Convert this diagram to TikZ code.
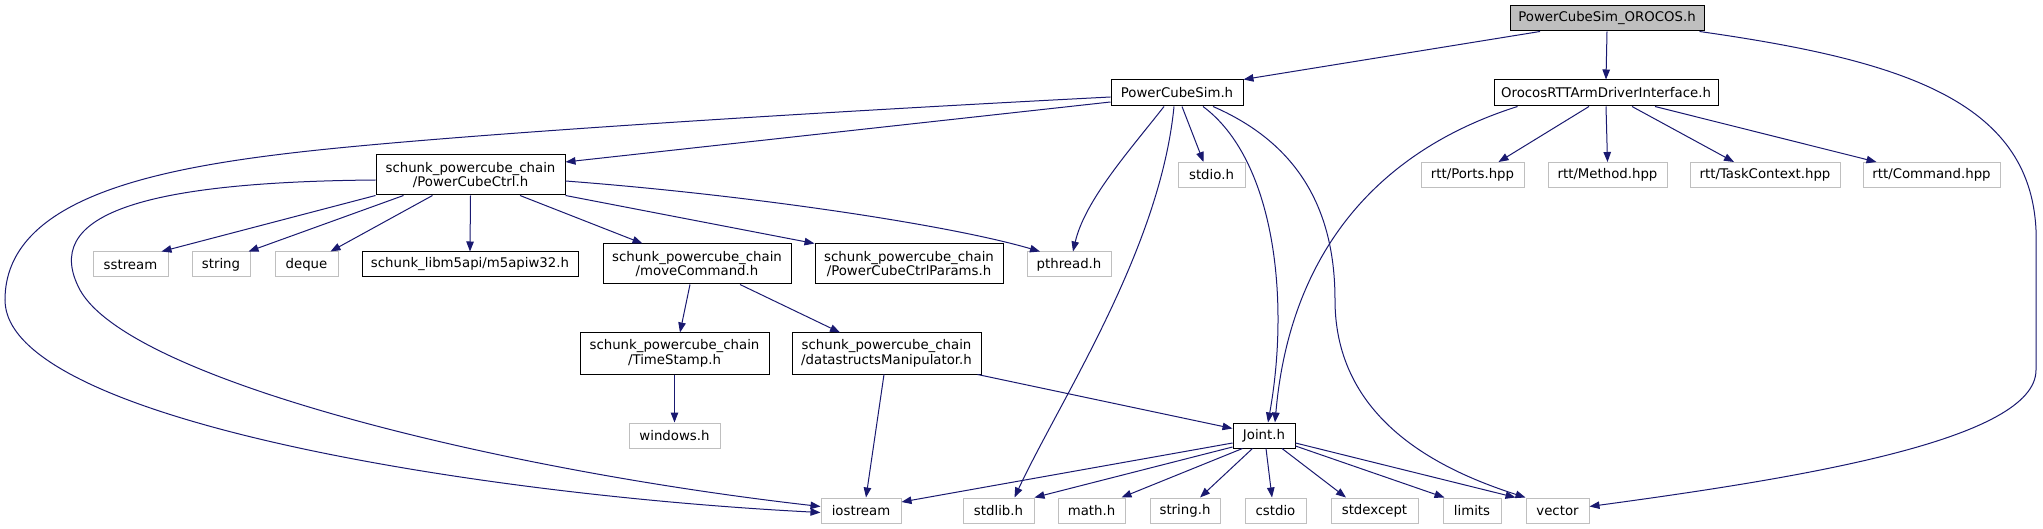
\documentclass[tikz,border=0pt]{standalone}
\usepackage{fontspec}
\setmainfont{DejaVu Sans}
\usetikzlibrary{arrows.meta}
\definecolor{edgeblue}{HTML}{191970}
\definecolor{extgray}{HTML}{BFBFBF}
\definecolor{rootfill}{HTML}{BFBFBF}
\begin{document}
\begin{tikzpicture}[x=1pt,y=-1pt,
  box/.style={draw=black, line width=1pt, inner sep=0pt, align=center, text=black,
    font=\fontsize{13.3}{14.5}\selectfont, minimum height=25pt},
  twoline/.style={box, minimum height=40pt},
  ext/.style={box, draw=extgray},
  rootnode/.style={box, fill=rootfill},
  dep/.style={draw=edgeblue, line width=1pt, -{Triangle[length=10pt,width=7.5pt,fill=edgeblue]}}]
\fill[white] (0,0) rectangle (2043,529);
\useasboundingbox (0,0) rectangle (2043,529);
% row 0
\node[rootnode, minimum width=194pt] (root) at (1607,18.5) {PowerCubeSim\_OROCOS.h};
% row 1
\node[box, minimum width=132pt, minimum height=26pt] (pcs) at (1177,93) {PowerCubeSim.h};
\node[box, minimum width=224pt, minimum height=26pt] (oro) at (1606,93) {OrocosRTTArmDriverInterface.h};
% row 2
\node[twoline, minimum width=189pt] (pcc) at (470.5,175) {schunk\_powercube\_chain\\/PowerCubeCtrl.h};
\node[ext, minimum width=67pt] (stdio) at (1211.5,175) {stdio.h};
\node[ext, minimum width=103pt] (ports) at (1472.5,175) {rtt/Ports.hpp};
\node[ext, minimum width=119pt] (method) at (1607.5,175) {rtt/Method.hpp};
\node[ext, minimum width=150pt] (task) at (1765,175) {rtt/TaskContext.hpp};
\node[ext, minimum width=137pt] (cmd) at (1931.5,175) {rtt/Command.hpp};
% row 3
\node[ext, minimum width=75pt] (ss) at (130.5,264.5) {sstream};
\node[ext, minimum width=58pt] (str) at (221,264.5) {string};
\node[ext, minimum width=63pt] (deq) at (306.5,264.5) {deque};
\node[box, minimum width=216pt] (m5) at (470,264.5) {schunk\_libm5api/m5apiw32.h};
\node[twoline, minimum width=188pt] (mv) at (697,264) {schunk\_powercube\_chain\\/moveCommand.h};
\node[twoline, minimum width=188pt] (par) at (909,264) {schunk\_powercube\_chain\\/PowerCubeCtrlParams.h};
\node[ext, minimum width=84pt] (pth) at (1069,264.5) {pthread.h};
% row 4
\node[twoline, minimum width=189pt, minimum height=41pt] (ts) at (674.5,353.5) {schunk\_powercube\_chain\\/TimeStamp.h};
\node[twoline, minimum width=189pt, minimum height=41pt] (ds) at (886.5,353.5) {schunk\_powercube\_chain\\/datastructsManipulator.h};
% row 5
\node[ext, minimum width=91pt] (win) at (674.5,435.5) {windows.h};
\node[box, minimum width=62pt] (joint) at (1264,435.5) {Joint.h};
% row 6
\node[ext, minimum width=80pt] (ios) at (861,510.5) {iostream};
\node[ext, minimum width=71pt] (stdlib) at (998.5,510.5) {stdlib.h};
\node[ext, minimum width=67pt] (math) at (1091.5,510.5) {math.h};
\node[ext, minimum width=70pt] (strh) at (1185,510.5) {string.h};
\node[ext, minimum width=61pt] (cst) at (1275.5,510.5) {cstdio};
\node[ext, minimum width=87pt] (stdex) at (1374.5,510.5) {stdexcept};
\node[ext, minimum width=58pt] (lim) at (1472,510.5) {limits};
\node[ext, minimum width=63pt] (vec) at (1557.5,510.5) {vector};
% edges from root
\draw[dep] ([xshift=-67pt]root.south) -- (pcs.north east);
\draw[dep] (root.south) -- (oro.north);
\draw[dep] ([xshift=-5pt]root.south east) .. controls (1900,60) and (2030,100) .. (2036,230) -- (2036,370) .. controls (2036,440) and (1800,478) .. ([yshift=4pt]vec.east);
% edges from PowerCubeSim.h
\draw[dep] ([yshift=-9pt]pcs.west) -- ([yshift=13pt]pcc.east);
\draw[dep] ([yshift=-4pt]pcs.west) .. controls (800,113) and (450,135) .. (300,152) .. controls (150,169) and (5,200) .. (5,300) .. controls (5,420) and (480,495) .. ([yshift=-2pt]ios.west);
\draw[dep] ([xshift=5pt]pcs.south) -- ([xshift=-8pt]stdio.north);
\draw[dep] ([xshift=-13pt]pcs.south) .. controls (1130,150) and (1085,200) .. ([xshift=4pt]pth.north);
\draw[dep] ([xshift=-3pt]pcs.south) .. controls (1160,250) and (1060,400) .. ([xshift=16pt]stdlib.north);
\draw[dep] ([xshift=26pt]pcs.south) .. controls (1275,160) and (1290,300) .. ([xshift=4pt]joint.north);
\draw[dep] ([xshift=36pt]pcs.south) .. controls (1290,140) and (1335,200) .. (1335,300) .. controls (1335,420) and (1440,470) .. (vec.north west);
% edges from Orocos
\draw[dep] ([xshift=24pt]oro.south west) .. controls (1380,150) and (1290,250) .. ([xshift=11pt]joint.north);
\draw[dep] ([xshift=-17pt]oro.south) -- ([xshift=-26pt]ports.north east);
\draw[dep] (oro.south) -- (method.north);
\draw[dep] ([xshift=26pt]oro.south) -- ([xshift=-31pt]task.north);
\draw[dep] ([xshift=49pt]oro.south) -- ([xshift=14pt]cmd.north west);
% edges from PowerCubeCtrl
\draw[dep] ([yshift=-5pt]pcc.west) .. controls (140,182) and (40,215) .. (80,290) .. controls (130,380) and (500,470) .. ([yshift=4pt]ios.west);
\draw[dep] (pcc.south west) -- ([xshift=-7pt]ss.north east);
\draw[dep] ([xshift=28pt]pcc.south west) -- ([xshift=-2pt]str.north east);
\draw[dep] ([xshift=57pt]pcc.south west) -- ([xshift=-8pt]deq.north east);
\draw[dep] (pcc.south) -- (m5.north);
\draw[dep] ([xshift=49.5pt]pcc.south) -- ([xshift=40pt]mv.north west);
\draw[dep] (pcc.south east) -- (par.north west);
\draw[dep] ([yshift=-6pt]pcc.east) .. controls (750,195) and (950,225) .. ([xshift=-29pt]pth.north);
% moveCommand etc.
\draw[dep] ([xshift=-7pt]mv.south) -- ([xshift=5.5pt]ts.north);
\draw[dep] ([xshift=43pt]mv.south) -- ([xshift=-46.5pt]ds.north);
\draw[dep] (ts.south) -- (win.north);
\draw[dep] ([xshift=-2.5pt]ds.south) -- ([xshift=5pt]ios.north);
\draw[dep] ([xshift=-4pt]ds.south east) -- ([yshift=7pt]joint.west);
% Joint.h
\draw[dep] ([yshift=-7.5pt]joint.west) -- ([yshift=8.5pt]ios.east);
\draw[dep] ([yshift=-11.5pt]joint.west) -- (stdlib.north east);
\draw[dep] ([xshift=10pt]joint.south west) -- ([xshift=-4pt]math.north east);
\draw[dep] ([xshift=20pt]joint.south west) -- ([xshift=15pt]strh.north);
\draw[dep] ([xshift=2pt]joint.south) -- ([xshift=-3.5pt]cst.north);
\draw[dep] ([xshift=18pt]joint.south) -- ([xshift=-28.5pt]stdex.north);
\draw[dep] ([yshift=-10.5pt]joint.east) -- ([xshift=2pt]lim.north west);
\draw[dep] ([yshift=-7.5pt]joint.east) -- ([xshift=-10pt]vec.north west);
\end{tikzpicture}
\end{document}
